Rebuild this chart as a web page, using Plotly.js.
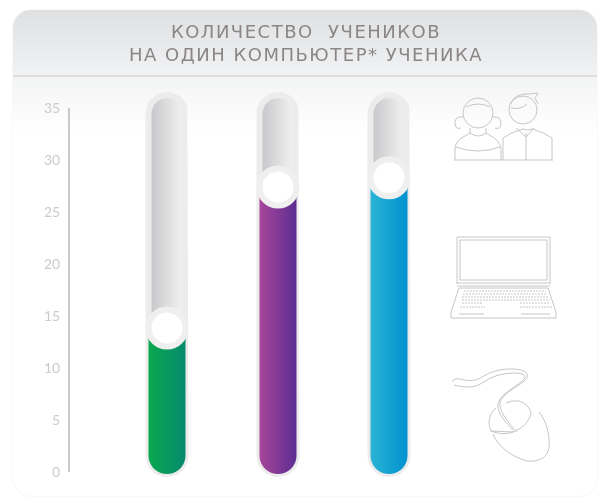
<!DOCTYPE html>
<html><head><meta charset="utf-8">
<script src="https://cdn.plot.ly/plotly-3.0.1.min.js"></script>
<style>
html,body{margin:0;padding:0;background:#fff;width:598px;height:501px;overflow:hidden}
#card{position:absolute;left:13px;top:10px;width:584px;height:486px;border-radius:18px;overflow:hidden;
 box-shadow:0 0 2px #e9e9e9;background:#fff;filter:blur(.5px)}
#head{position:absolute;left:0;top:0;right:0;height:65px;background:linear-gradient(#dfe0e2,#f1f2f3);border-bottom:2px solid #dedede}
#glow{position:absolute;left:0;top:67px;right:0;height:55px;background:linear-gradient(#f3f4f4,#fff)}
#plot{position:absolute;left:0;top:0;width:598px;height:501px;filter:blur(.7px)}
.gtitle{letter-spacing:1.5px}
</style></head><body>
<div id="card"><div id="head"></div><div id="glow"></div></div>
<div id="plot"></div>
<script>
const titleLine1 = "КОЛИЧЕСТВО  УЧЕНИКОВ";
const titleLine2 = "НА ОДИН КОМПЬЮТЕР* УЧЕНИКА";
const categories = [0, 1, 2];
const values = [13.85, 27.4, 28.3];
const trackTop = 36.25;
const trackBottom = -0.2;
const tickValues = [0, 5, 10, 15, 20, 25, 30, 35];
const colorStart = ["#0aa84f", "#a8469b", "#2bb4d6"];
const colorEnd = ["#058a6e", "#5c2d91", "#0091cf"];

const pxPerX = 111, pxPerY = 10.4, halfPx = 18.5;

function capsule(c, bottom, top, roundTop) {
  const xs = [], ys = [], rx = halfPx / pxPerX, ry = halfPx / pxPerY;
  for (let a = 180; a <= 360; a += 10) {
    xs.push(c + rx * Math.cos(a * Math.PI / 180));
    ys.push(bottom + ry + ry * Math.sin(a * Math.PI / 180));
  }
  if (roundTop) {
    for (let a = 0; a <= 180; a += 10) {
      xs.push(c + rx * Math.cos(a * Math.PI / 180));
      ys.push(top - ry + ry * Math.sin(a * Math.PI / 180));
    }
  } else {
    xs.push(c + rx, c - rx);
    ys.push(top, top);
  }
  xs.push(xs[0]); ys.push(ys[0]);
  return {x: xs, y: ys};
}

const traces = [];
categories.forEach((c, i) => {
  const t = capsule(c, trackBottom, trackTop, true);
  traces.push({type: "scatter", mode: "lines", x: t.x, y: t.y, fill: "toself",
    line: {color: "#ececec", width: 6}, cliponaxis: false, hoverinfo: "skip", showlegend: false,
    fillgradient: {type: "horizontal", colorscale: [[0, "#c4c5c7"], [1, "#f5f5f5"]]}});
  const f = capsule(c, trackBottom, values[i], false);
  traces.push({type: "scatter", mode: "none", x: f.x, y: f.y, fill: "toself",
    cliponaxis: false, hoverinfo: "skip", showlegend: false,
    fillgradient: {type: "horizontal", colorscale: [[0, colorStart[i]], [1, colorEnd[i]]]}});
});
traces.push({type: "scatter", mode: "markers", x: categories, y: values, cliponaxis: false, showlegend: false,
  marker: {size: 37, color: "#ffffff", line: {color: "#efefef", width: 6}}});

const icons = `<svg xmlns="http://www.w3.org/2000/svg" viewBox="0 0 598 501" width="598" height="501" fill="none" stroke="#c0c0c0" stroke-width=".9">
<circle cx="478" cy="113" r="15"/><path d="M463 117q-8-1-8 6t6 5M493 117q8-1 8 6t-6 5"/><path d="M466 107q12-6 24 0M470 128l0 5M486 128l0 5"/>
<path d="M455 160v-12q1-8 10-12l5-3q8 6 16 0l5 3q8 4 10 12v12M456 147q22 8 44 0"/>
<path d="M454 160H553"/>
<circle cx="523" cy="110" r="14"/><path d="M510 104q6-11 18-10l10-1-3 5 3 6M511 108q10 2 16-4"/>
<path d="M503 160v-22q8-6 20-9q5 2 9 0q12 3 20 9v22M526 133v27M516 128l10 9 8-9"/>
<path d="M457 284V237H550V284M460 280V240H547V280H460"/><path d="M457 283H550M457 286H550"/>
<path d="M459 288H548L556 312V318H451V312Z"/>
<path d="M464 291H546M463 294H547M462 297H548M462 300H550M462 303H483M520 303H550M460 307H485M520 307H552" stroke-dasharray="2 1"/>
<path d="M459 314H484M521 314H550"/>
<path d="M452 382q2-4 8-3c8 2 14 3 22-2q14-9 32-8 16 1 13 9c-3 6-24 14-27 24-2 8 9 22 17 30M454 385c8 2 20 4 28-2q14-10 32-10 14 0 10 6c-4 6-24 14-26 25-2 8 9 20 15 26"/>
<path d="M496 408q-6 4-7 14 0 5 2 9c8 3 16 4 24 0q14-6 16-18-2-9-12-12-8-1-13 2M491 431l23 1"/>
<path d="M539 412c8 10 11 24 10 36-2 10-10 14-22 13-16-4-30-16-34-27"/>
</svg>`;
const iconSrc = "data:image/svg+xml;charset=utf-8," + encodeURIComponent(icons);

// plot area runs from y=80 to y=492 so the rounded ends of the tracks are not clipped
const plotTop = 80, plotBottom = 492, zeroPx = 472;
const plotH = plotBottom - plotTop, plotW = 529;
const layout = {
  width: 598, height: 501,
  margin: {l: 69, r: 0, t: plotTop, b: 501 - plotBottom},
  paper_bgcolor: "rgba(0,0,0,0)", plot_bgcolor: "rgba(0,0,0,0)",
  title: {text: titleLine1 + "<br>" + titleLine2, x: 306 / 598, xref: "container", xanchor: "center",
    y: 1 - 38 / 501, yref: "container", yanchor: "middle",
    font: {family: "DejaVu Sans, sans-serif", size: 18, color: "#8b8586"}},
  xaxis: {range: [-98 / 111, 431 / 111], visible: false, fixedrange: true},
  yaxis: {range: [(zeroPx - plotBottom) / pxPerY, (zeroPx - plotTop) / pxPerY],
    tickvals: tickValues, ticktext: tickValues.map(String), showgrid: false, zeroline: false,
    showline: false, ticks: "outside", ticklen: 5, tickcolor: "rgba(0,0,0,0)", fixedrange: true,
    tickfont: {family: "Lato, sans-serif", size: 14, color: "#cbcbd0"}},
  shapes: [{type: "line", xref: "paper", yref: "y", x0: 0, x1: 0, y0: 0, y1: 35,
    line: {color: "#c9c9cb", width: 2}}],
  images: [{source: iconSrc, xref: "paper", yref: "paper", x: -69 / plotW, y: (plotBottom) / plotH,
    sizex: 598 / plotW, sizey: 501 / plotH, xanchor: "left", yanchor: "top", sizing: "stretch", layer: "above"}],
  showlegend: false
};
Plotly.newPlot("plot", traces, layout, {displayModeBar: false, staticPlot: true});
</script></body></html>
